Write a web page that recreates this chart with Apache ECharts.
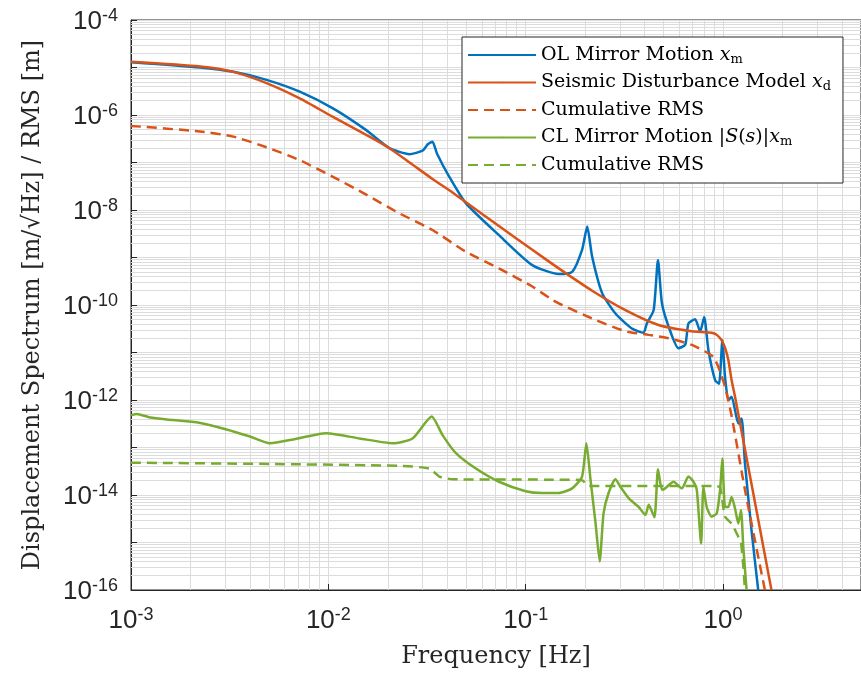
<!DOCTYPE html>
<html>
<head>
<meta charset="utf-8">
<script src="https://cdn.jsdelivr.net/npm/echarts@6/dist/echarts.min.js"></script>
<style>
  html, body { margin: 0; padding: 0; background: #fff; }
  #chart { width: 861px; height: 675px; }
</style>
</head>
<body>
<div id="chart"></div>
<script>
// OL mirror motion (blue)
const olFreq = [0.001, 0.00224, 0.0033, 0.00486, 0.00716, 0.01055, 0.01556, 0.0204, 0.0258, 0.030, 0.032, 0.0337, 0.0355, 0.041, 0.0498, 0.0732, 0.108, 0.147, 0.172, 0.193, 0.205, 0.217, 0.244, 0.285, 0.345, 0.395, 0.411, 0.445, 0.468, 0.490, 0.530, 0.594, 0.643, 0.668, 0.722, 0.766, 0.802, 0.843, 0.912, 0.954, 0.992, 1.023, 1.064, 1.105, 1.195, 1.242, 1.291, 1.394, 1.507]
const olAmp = [1.29e-5, 1.0e-5, 8.1e-6, 5.5e-6, 3.1e-6, 1.38e-6, 4.8e-7, 2.0e-7, 1.5e-7, 1.78e-7, 2.45e-7, 2.75e-7, 1.55e-7, 5.0e-8, 1.38e-8, 2.95e-9, 6.9e-10, 4.5e-10, 5.0e-10, 1.45e-9, 4.5e-9, 1.05e-9, 1.78e-10, 6.6e-11, 3.2e-11, 2.6e-11, 4.1e-11, 7.8e-11, 8.9e-10, 1.1e-10, 3.5e-11, 1.23e-11, 1.45e-11, 4.1e-11, 5.0e-11, 2.75e-11, 5.6e-11, 1.12e-11, 2.6e-12, 2.2e-12, 1.8e-11, 3.1e-12, 1.0e-12, 1.17e-12, 3.2e-13, 4.1e-13, 4.7e-14, 1.8e-15, 1.0e-16]

// seismic disturbance model (orange)
const sdFreq = [0.001, 0.00224, 0.0033, 0.00486, 0.00716, 0.01055, 0.01556, 0.0204, 0.0258, 0.0337, 0.041, 0.0498, 0.0732, 0.108, 0.147, 0.217, 0.320, 0.471, 0.694, 0.875, 0.929, 0.984, 1.023, 1.064, 1.105, 1.150, 1.759]
const sdAmp = [1.32e-5, 1.05e-5, 8.1e-6, 4.7e-6, 2.24e-6, 9.1e-7, 3.8e-7, 2.0e-7, 1.0e-7, 4.5e-8, 2.6e-8, 1.45e-8, 4.6e-9, 1.45e-9, 5.9e-10, 2.0e-10, 7.8e-11, 3.8e-11, 2.8e-11, 2.6e-11, 2.35e-11, 1.8e-11, 1.26e-11, 6.9e-12, 2.6e-12, 1.17e-12, 1.0e-16]

// cumulative RMS of the disturbance (orange dashed)
const sdRmsFreq = [0.001, 0.00224, 0.0033, 0.00486, 0.00716, 0.01055, 0.01556, 0.0229, 0.0337, 0.0498, 0.0732, 0.108, 0.136, 0.153, 0.217, 0.320, 0.420, 0.530, 0.694, 0.811, 0.893, 0.946, 1.023, 1.105, 1.291, 1.629]
const sdRmsAmp = [5.9e-7, 4.5e-7, 3.5e-7, 2.1e-7, 1.12e-7, 5.0e-8, 2.1e-8, 8.5e-9, 3.8e-9, 1.32e-9, 5.9e-10, 2.45e-10, 1.29e-10, 1.0e-10, 5.2e-11, 2.8e-11, 2.35e-11, 2.0e-11, 1.45e-11, 1.05e-11, 8.1e-12, 5.0e-12, 1.9e-12, 4.6e-13, 1.29e-14, 1.0e-16]

// CL mirror motion (green)
const clFreq = [0.001, 0.00107, 0.00125, 0.00152, 0.00215, 0.00305, 0.00401, 0.00506, 0.00663, 0.00977, 0.0144, 0.0212, 0.0267, 0.0334, 0.0379, 0.0443, 0.0559, 0.0732, 0.1, 0.121, 0.147, 0.172, 0.193, 0.203, 0.213, 0.226, 0.237, 0.248, 0.263, 0.285, 0.302, 0.333, 0.373, 0.404, 0.420, 0.449, 0.468, 0.490, 0.509, 0.561, 0.618, 0.668, 0.708, 0.736, 0.774, 0.795, 0.826, 0.875, 0.929, 0.966, 0.992, 1.023, 1.064, 1.105, 1.150, 1.195, 1.233, 1.266, 1.316]
const clAmp = [4.8e-13, 5.1e-13, 4.3e-13, 3.9e-13, 3.4e-13, 2.4e-13, 1.7e-13, 1.23e-13, 1.48e-13, 2.0e-13, 1.55e-13, 1.23e-13, 1.55e-13, 4.5e-13, 1.82e-13, 7.6e-14, 3.6e-14, 1.9e-14, 1.2e-14, 1.1e-14, 1.1e-14, 1.38e-14, 2.45e-14, 1.23e-13, 2.1e-14, 2.5e-15, 4.0e-16, 4.1e-15, 1.1e-14, 2.15e-14, 1.48e-14, 8.5e-15, 5.6e-15, 3.8e-15, 6.2e-15, 3.4e-15, 3.5e-14, 1.29e-14, 1.38e-14, 1.9e-14, 1.38e-14, 2.45e-14, 1.9e-14, 1.29e-14, 9.5e-16, 1.48e-14, 5.6e-15, 3.5e-15, 4.1e-15, 1.29e-14, 5.9e-14, 5.6e-15, 5.6e-15, 9.1e-15, 5.2e-15, 2.5e-15, 4.8e-15, 8.1e-16, 1.0e-16]

// cumulative RMS of CL motion (green dashed)
const clRmsFreq = [0.001, 0.00506, 0.0229, 0.0325, 0.0365, 0.0426, 0.147, 0.193, 0.208, 0.912, 0.966, 1.023, 1.105, 1.195, 1.233, 1.266, 1.291]
const clRmsAmp = [4.8e-14, 4.5e-14, 4.1e-14, 3.6e-14, 2.45e-14, 2.15e-14, 2.1e-14, 2.05e-14, 1.55e-14, 1.55e-14, 1.45e-14, 3.5e-15, 2.5e-15, 1.32e-15, 1.0e-15, 3.2e-16, 1.0e-16]

const legendText = {
  ol: 'OL Mirror Motion {i|x}{sub|m}',
  sd: 'Seismic Disturbance Model {i|x}{sub|d}',
  sdRms: 'Cumulative RMS',
  cl: 'CL Mirror Motion |{i|S}({i|s})|{i|x}{sub|m}',
  clRms: 'Cumulative RMS'
}

const BLUE = '#0072BD'
const ORANGE = '#D95319'
const GREEN = '#77AC30'
const GRID = '#dcdcdc'
const AXIS = '#262626'
const SERIF = 'DejaVu Serif'
const SANS = 'Liberation Sans'

const pairs = (xs, ys) => xs.map((x, i) => [x, ys[i]])

// minor grid positions 2..9 per decade
const xMinor = []
const yMinor = []
for (let d = -3; d <= 0; d++) {
  for (let k = 2; k <= 9; k++) {
    const v = k * Math.pow(10, d)
    if (v <= 5) xMinor.push(v)
  }
}
for (let d = -16; d <= -5; d++) {
  for (let k = 2; k <= 9; k++) yMinor.push(k * Math.pow(10, d))
}

const powLabel = (v, evenOnly) => {
  const e = Math.log10(v)
  const r = Math.round(e)
  if (Math.abs(e - r) > 1e-6) return ''
  if (evenOnly && r % 2 !== 0) return ''
  return '{b|10}{s|' + r + '}'
}

const tickRich = {
  b: { fontFamily: SANS, fontSize: 26, lineHeight: 26, color: AXIS, padding: [4, 0, 0, 0] },
  s: { fontFamily: SANS, fontSize: 18, lineHeight: 18, color: AXIS, verticalAlign: 'top' }
}

const lineSeries = (name, xs, ys, color, dashed) => ({
  name,
  type: 'line',
  data: pairs(xs, ys),
  showSymbol: false,
  symbol: 'none',
  smooth: 0.2,
  lineStyle: { color, width: 2.5, type: dashed ? [10, 6] : 'solid' },
  itemStyle: { color },
  z: 3
})

const chart = echarts.init(document.getElementById('chart'))

const option = {
  animation: false,
  backgroundColor: '#fff',
  grid: {
    left: 131,
    right: -2.4,
    top: 20,
    bottom: 85,
    show: true,
    borderColor: AXIS,
    borderWidth: 1,
    backgroundColor: 'transparent'
  },
  xAxis: {
    type: 'log',
    min: 0.001,
    max: 5,
    interval: 1,
    name: 'Frequency [Hz]',
    nameLocation: 'middle',
    nameGap: 55,
    nameTextStyle: { fontFamily: SERIF, fontSize: 24, color: AXIS },
    axisLine: { show: true, lineStyle: { color: AXIS, width: 1 } },
    axisTick: { show: true, inside: true, length: 6, lineStyle: { color: AXIS } },
    axisLabel: {
      margin: 16,
      showMaxLabel: false,
      formatter: v => powLabel(v, false),
      rich: tickRich
    },
    splitLine: { show: true, lineStyle: { color: GRID, width: 1 } }
  },
  yAxis: {
    type: 'log',
    min: 1e-16,
    max: 1e-4,
    interval: 1,
    name: 'Displacement Spectrum [m/\u221AHz] / RMS [m]',
    nameLocation: 'middle',
    nameRotate: 90,
    nameGap: 86,
    nameTextStyle: { fontFamily: SERIF, fontSize: 24, color: AXIS },
    axisLine: { show: true, lineStyle: { color: AXIS, width: 1 } },
    axisTick: { show: true, inside: true, length: 6, lineStyle: { color: AXIS } },
    axisLabel: {
      margin: 13,
      formatter: v => powLabel(v, true),
      rich: tickRich
    },
    splitLine: { show: true, lineStyle: { color: GRID, width: 1 } }
  },
  legend: {
    data: ['ol', 'sd', 'sdRms', 'cl', 'clRms'],
    orient: 'vertical',
    left: 462,
    top: 37,
    padding: [7, 12, 7, 5],
    itemGap: 5.5,
    itemWidth: 68,
    itemHeight: 2,
    backgroundColor: '#fff',
    borderColor: AXIS,
    borderWidth: 1,
    borderRadius: 0,
    formatter: name => legendText[name],
    textStyle: {
      fontFamily: SERIF,
      fontSize: 19,
      lineHeight: 22,
      color: '#000',
      rich: {
        i: { fontFamily: SERIF, fontSize: 19, lineHeight: 22, fontStyle: 'italic', color: '#000' },
        sub: { fontFamily: SERIF, fontSize: 13, lineHeight: 10, verticalAlign: 'bottom', color: '#000' }
      }
    }
  },
  series: [
    {
      name: 'minorGrid',
      type: 'line',
      data: [],
      silent: true,
      z: 1,
      markLine: {
        silent: true,
        animation: false,
        precision: 20,
        z: 1,
        symbol: ['none', 'none'],
        label: { show: false },
        lineStyle: { color: GRID, width: 1, type: 'solid' },
        emphasis: { disabled: true },
        data: xMinor.map(v => ({ xAxis: v })).concat(yMinor.map(v => ({ yAxis: v })))
      }
    },
    lineSeries('ol', olFreq, olAmp, BLUE, false),
    lineSeries('sd', sdFreq, sdAmp, ORANGE, false),
    lineSeries('sdRms', sdRmsFreq, sdRmsAmp, ORANGE, true),
    lineSeries('cl', clFreq, clAmp, GREEN, false),
    lineSeries('clRms', clRmsFreq, clRmsAmp, GREEN, true)
  ]
}

chart.setOption(option)
</script>
</body>
</html>
